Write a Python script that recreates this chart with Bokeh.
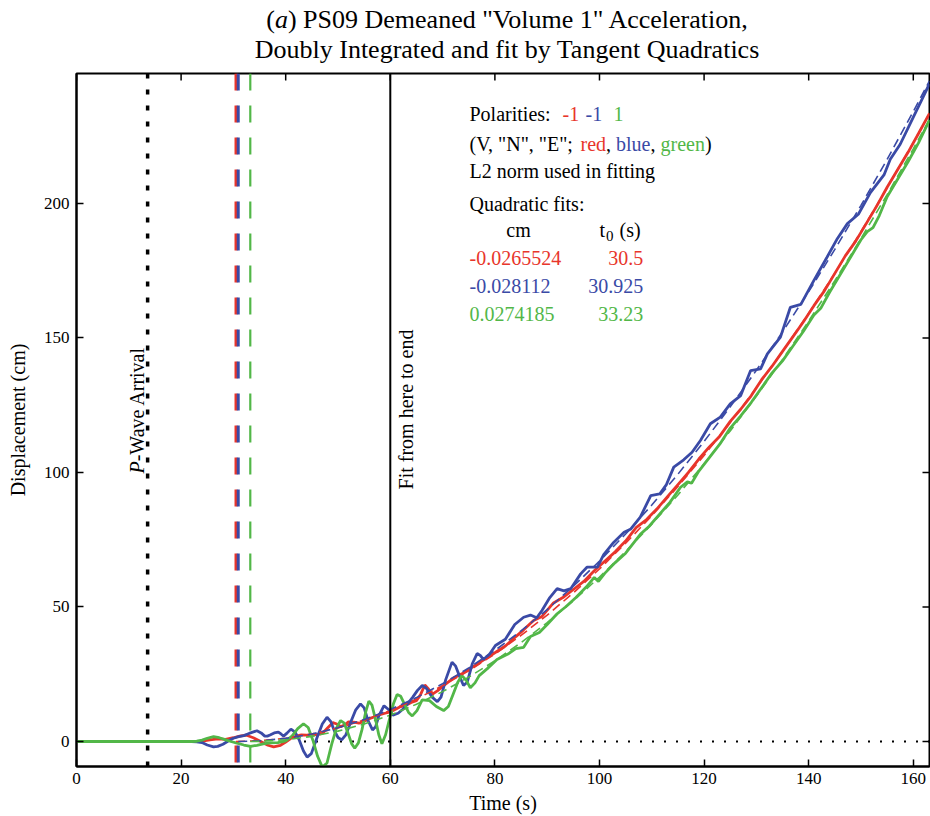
from math import pi
from bokeh.plotting import figure
from bokeh.models import Span, Label, Range1d, FixedTicker, Div
from bokeh.layouts import column
from bokeh.embed import file_html
from bokeh.resources import INLINE

FONT = "Liberation Serif"
RED = "#e8352b"
BLUE = "#3a4aa6"
GREEN = "#52b748"

# ---------------- data ----------------
title_line1 = '(<i>a</i>) PS09 Demeaned "Volume 1" Acceleration,'
title_line2 = "Doubly Integrated and fit by Tangent Quadratics"

x_ticks = [0, 20, 40, 60, 80, 100, 120, 140, 160]
y_ticks = [0, 50, 100, 150, 200]

p_wave_time = 13.6
fit_start_time = 60
zero_line_t = [43.5, 163.1]
zero_line_d = [0, 0]

t0_red, t0_blue, t0_green = 30.5, 30.925, 33.23
cm_red, cm_blue, cm_green = "-0.0265524", "-0.028112", "0.0274185"
t0_red_txt, t0_blue_txt, t0_green_txt = "30.5", "30.925", "33.23"

red_t = [0, 22, 24, 25.5, 27, 28.5, 30, 31.2, 32.4, 33.8, 35.5,
         36.6, 37.7, 39, 40, 41, 42, 43, 44, 45, 46,
         47, 48, 49, 49.8, 50.5, 51.3, 52, 53, 54, 55,
         56, 57, 58, 59, 60, 61, 62, 63, 64, 65,
         65.8, 66.6, 67.3, 68, 69, 70, 71, 72, 73, 74,
         75, 76, 77, 78, 79, 80,
         82, 84, 85.5, 87.4, 89, 91.2, 93, 95, 97, 99, 101, 103, 105, 107, 109, 111, 113, 115,
         117, 119, 121, 123, 125, 127, 129, 131, 133, 135, 137, 139, 141, 143, 145, 147, 149,
         151, 153, 155, 157, 159, 161, 163.1]
red_d = [0, 0, 0.1, 0.6, 1.0, 0.8, 1.4, 2.0, 2.4, 1.4, -0.3,
         -1.4, -2.0, -1.4, -0.2, 1.2, 2.0, 2.5, 2.4, 2.5, 2.6,
         3.0, 5.0, 7.0, 6.5, 5.5, 6.2, 7.3, 7.2, 6.8, 7.5,
         8.5, 9.2, 10.0, 10.5, 11.0, 12.0, 13.0, 13.5, 14.5, 15.2,
         17.5, 21.0, 19.5, 17.5, 18.8, 20.5, 22.0, 23.5, 24.5, 25.5,
         26.8, 28.0, 29.2, 30.5, 31.8, 33.0,
         35.5, 39.0, 41.5, 45.0, 46.5, 51.5, 53.5, 56.5, 59.5, 63.5, 67.0, 70.5, 74.5, 79.5,
         82.5, 86.5, 91.0, 95.5, 100.0, 105.0, 109.5, 113.5, 119.0, 123.5, 128.5, 134.5, 139.5,
         145.0, 150.5, 156.0, 162.0, 167.5, 174.0, 180.5, 186.0, 192.5, 199.0, 206.0, 212.5,
         219.0, 226.0, 233.5]

blue_t = [0, 22, 23, 24, 25, 26.2, 27, 28, 29, 30, 31,
          32, 33, 34.5, 35.3, 36, 36.5, 37, 37.8, 38.6, 39.1,
          39.6, 40.3, 41, 41.8, 42.6, 43.4, 44.1, 44.9, 46, 47,
          47.9, 48.6, 49.3, 50, 50.7, 51.5, 52.5, 53.4, 54.3, 55,
          55.7, 56.6, 57.2, 57.8, 58.8, 59.6, 60.5, 61.5, 62.4, 63.3,
          64.3, 65.2, 66.1, 66.9, 68, 69, 69.7, 70.6, 71.8, 72.5,
          73.3, 74, 74.7, 75.7, 76.6, 77.2, 77.8, 79, 80.1,
          82, 83.8, 85.5, 86.8, 88, 89, 90.5, 91.9, 93.2, 94.5, 96.4, 97.6, 99.6, 100.8, 102.7,
          104.7, 106, 107.8, 109.8, 111.5, 112.8, 114.2, 116.1, 117.7, 119.3, 121.2, 123.1, 125,
          127, 128.9, 130.8, 132.1, 134.6, 136.5, 138.5, 141, 143.5, 145.5, 147.4, 149.5, 151.8,
          154.4, 155.6, 157.5, 159.5, 161.5, 163.1]
blue_d = [0, 0, -0.1, -0.4, -1.3, -2.0, -1.8, -1.0, 0.2, 1.2, 1.8,
          2.2, 3.0, 4.0, 3.2, 2.0, 2.0, 2.4, 3.2, 3.5, 2.8,
          2.0, 3.2, 4.6, 3.5, 0.5, -3.5, -5.8, -4.5, 1.5, 6.5,
          9.0, 7.5, 4.0, 1.5, 0.6, 2.5, 7.5, 11.8, 14.0, 12.5,
          8.0, 4.3, 5.5, 9.5, 13.3, 12.0, 9.8, 10.5, 12.0, 14.0,
          16.5, 19.0, 20.8, 19.8, 16.5, 14.8, 16.5, 23.0, 29.5, 28.0,
          24.0, 20.8, 22.0, 29.0, 32.7, 32.0, 30.5, 32.5, 35.7,
          38.0, 43.5, 46.2, 47.0, 46.0, 48.7, 53.5, 56.8, 56.0, 56.8, 62.3, 64.8, 64.8, 69.5,
          74.0, 77.8, 79.0, 83.4, 91.4, 92.0, 95.5, 102.0, 104.7, 107.5, 111.9, 118.1, 120.6,
          125.5, 128.6, 137.9, 138.5, 144.1, 150.3, 161.4, 162.5, 171.4, 180.0, 187.0, 192.5,
          196.0, 204.0, 210.6, 216.4, 222.0, 230.0, 238.0, 244.5]

green_t = [0, 22, 23, 24, 25, 26.2, 27.3, 28.4, 29.5, 30.7, 32,
           33.3, 34.5, 35.7, 37, 38.5, 40, 41.2, 42.3, 43.4, 44.3,
           45.2, 46.1, 47, 47.9, 48.8, 49.7, 50.5, 51.2, 51.9, 52.6,
           53.2, 53.9, 54.6, 55.3, 55.9, 56.5, 57.2, 57.8, 58.4, 59.1,
           59.8, 60.6, 61.3, 62, 62.8, 63.5, 64.2, 65.1, 66.1, 67.5,
           68.8, 70.2, 71.1, 72, 72.9, 73.7, 74.5, 75.3, 76.2, 77,
           78.5, 80.4,
           82.5, 84, 85.5, 86.8, 88.5, 90, 91.9, 93.5, 95.5, 97.5, 99, 99.8, 101, 103, 105, 107.8,
           109.5, 111.5, 113.5, 115.5, 116.8, 117.6, 119, 121, 123, 125, 127, 129, 131, 133, 135,
           137, 139, 141, 142.3, 144, 146, 148, 150, 151.2, 152.3, 153.5, 155, 157, 159, 161, 163.1]
green_d = [0, 0, 0.1, 0.5, 1.2, 1.8, 1.4, 0.7, 0, -0.6, -1.3,
           -1.8, -1.4, -0.9, -0.5, -0.4, 0.2, 2.0, 4.8, 6.6, 5.2,
           0.5, -5.5, -9.5, -8.0, -1.0, 5.0, 7.8, 6.8, 3.2, -0.8,
           -2.5, -0.5, 4.5, 11.0, 15.0, 13.5, 8.0, 2.5, -0.8, 2.5,
           8.0, 14.0, 17.5, 16.8, 13.5, 10.8, 9.5, 11.5, 15.5, 15.2,
           13.0, 11.5, 13.0, 17.5, 22.0, 24.5, 22.8, 20.0, 21.8, 24.5,
           27.0, 30.5,
           32.5, 34.5, 35.0, 39.0, 40.5, 43.5, 47.5, 50.0, 53.5, 57.5, 61.0, 59.5, 62.5, 66.5,
           70.0, 77.0, 80.0, 84.5, 89.0, 94.5, 96.5, 96.0, 100.5, 105.5, 110.5, 116.5, 121.0,
           126.0, 131.5, 137.0, 141.5, 147.0, 152.5, 158.5, 161.0, 167.0, 173.5, 180.0, 186.5,
           189.5, 191.0, 195.5, 202.5, 209.0, 215.5, 222.5, 231.0]

red_fit_t = [30.5, 35, 40, 45, 50, 55, 60, 65, 70, 75, 80, 85, 90, 95, 100, 105, 110, 115, 120,
             125, 130, 135, 140, 145, 150, 155, 160, 163.1]
red_fit_d = [0, 0.27, 1.20, 2.79, 5.05, 7.97, 11.55, 15.80, 20.71, 26.29, 32.53, 39.43, 47.00,
             55.23, 64.13, 73.69, 83.91, 94.79, 106.35, 118.56, 131.44, 144.98, 159.18, 174.05,
             189.59, 205.78, 222.64, 233.4]
blue_fit_t = [30.925, 35, 40, 45, 50, 55, 60, 65, 70, 75, 80, 85, 90, 95, 100, 105, 110, 115, 120,
              125, 130, 135, 140, 145, 150, 155, 160, 163.1]
blue_fit_d = [0, 0.23, 1.16, 2.78, 5.11, 8.15, 11.88, 16.32, 21.46, 27.31, 33.85, 41.10, 49.05,
              57.71, 67.07, 77.13, 87.89, 99.36, 111.53, 124.40, 137.97, 152.25, 167.23, 182.91,
              199.30, 216.39, 234.18, 245.6]
green_fit_t = [33.23, 35, 40, 45, 50, 55, 60, 65, 70, 75, 80, 85, 90, 95, 100, 105, 110, 115, 120,
               125, 130, 135, 140, 145, 150, 155, 160, 163.1]
green_fit_d = [0, 0.04, 0.63, 1.90, 3.86, 6.50, 9.82, 13.84, 18.54, 23.92, 29.99, 36.74, 44.18,
               52.31, 61.12, 70.61, 80.80, 91.66, 103.22, 115.45, 128.38, 141.99, 156.28, 171.26,
               186.93, 203.28, 220.31, 231.2]

# ---------------- layout ----------------
W, H = 930, 816
TITLE_H = 68
FL, FT, FR, FB = 76, 73, 929, 766
X_LO, X_HI = 0, 163.1
Y_LO, Y_HI = -9.29, 248.3

title = Div(
    text=f'<div style="box-sizing:border-box; width:{W}px; padding:5px 0 0 84px; '
         f'text-align:center; font-family:\'{FONT}\'; font-size:26px; line-height:30px; '
         f'color:black;">{title_line1}<br>{title_line2}</div>',
    width=W, height=TITLE_H, margin=(0, 0, 0, 0))

p = figure(width=W, height=H - TITLE_H, output_backend="svg", toolbar_location=None,
           x_range=Range1d(X_LO, X_HI), y_range=Range1d(Y_LO, Y_HI),
           min_border_left=FL, min_border_right=W - FR, min_border_top=FT - TITLE_H,
           min_border_bottom=H - FB, background_fill_color="white",
           border_fill_color="white", margin=(0, 0, 0, 0))
p.grid.visible = False
p.outline_line_color = "black"
p.outline_line_width = 2

xa = p.xaxis[0]
xa.ticker = FixedTicker(ticks=x_ticks)
ya = p.yaxis[0]
ya.ticker = FixedTicker(ticks=y_ticks)
for ax in (xa, ya):
    ax.axis_line_width = 2
    ax.major_tick_in = 7
    ax.major_tick_out = 0
    ax.major_tick_line_width = 1.5
    ax.minor_tick_in = 0
    ax.minor_tick_out = 0
    ax.major_label_text_font = FONT
    ax.major_label_text_font_size = "17px"
    ax.major_label_text_color = "black"
    ax.axis_label_text_font = FONT
    ax.axis_label_text_font_size = "20px"
    ax.axis_label_text_font_style = "normal"
    ax.axis_label_text_color = "black"
xa.axis_label = "Time (s)"
xa.major_label_standoff = 6
xa.axis_label_standoff = 5
ya.axis_label = "Displacement (cm)"
ya.major_label_standoff = 7
ya.axis_label_standoff = 12

# mirrored inward ticks on top and right edges (7 px long)
px_per_x = (FR - FL) / (X_HI - X_LO)
px_per_y = (FB - FT) / (Y_HI - Y_LO)
tick_dy = 7 / px_per_y
tick_dx = 7 / px_per_x
p.segment(x0=x_ticks, x1=x_ticks, y0=[Y_HI] * len(x_ticks), y1=[Y_HI - tick_dy] * len(x_ticks),
          line_color="black", line_width=1.5)
p.segment(x0=[X_HI] * len(y_ticks), x1=[X_HI - tick_dx] * len(y_ticks), y0=y_ticks, y1=y_ticks,
          line_color="black", line_width=1.5)

# vertical reference lines
p.add_layout(Span(location=p_wave_time, dimension="height", line_color="black",
                  line_width=3.5, line_dash="5 11"))
p.add_layout(Span(location=t0_red, dimension="height", line_color=RED,
                  line_width=3, line_dash="17 15"))
p.add_layout(Span(location=t0_blue, dimension="height", line_color=BLUE,
                  line_width=3, line_dash="17 15"))
p.add_layout(Span(location=t0_green, dimension="height", line_color=GREEN,
                  line_width=2.2, line_dash="17 15"))
p.add_layout(Span(location=fit_start_time, dimension="height", line_color="black",
                  line_width=2))
p.line(zero_line_t, zero_line_d, line_color="black", line_width=2, line_dash="2 10")

# traces
p.line(red_t, red_d, line_color=RED, line_width=2.8)
p.line(blue_t, blue_d, line_color=BLUE, line_width=2.8)
p.line(green_t, green_d, line_color=GREEN, line_width=2.8)
# tangent quadratic fits
p.line(red_fit_t, red_fit_d, line_color=RED, line_width=1.6, line_dash="9 5")
p.line(blue_fit_t, blue_fit_d, line_color=BLUE, line_width=1.6, line_dash="9 5")
p.line(green_fit_t, green_fit_d, line_color=GREEN, line_width=1.6, line_dash="9 5")

# ---------------- texts ----------------
def lab(cx, cy, text, color="black", size=20, align="left", style="normal", angle=0):
    p.add_layout(Label(x=cx - FL, y=FB - cy, x_units="screen", y_units="screen",
                       text=text, text_color=color, text_font=FONT,
                       text_font_size=f"{size}px", text_align=align,
                       text_baseline="middle", text_font_style=style, angle=angle))

lab(469, 113, "Polarities:")
lab(562, 113, "-1", RED)
lab(585, 113, "-1", BLUE)
lab(613, 113, "1", GREEN)
lab(469, 143, '(V, "N", "E"; ')
lab(580, 143, "red", RED)
lab(605.5, 143, ",")
lab(615.5, 143, "blue", BLUE)
lab(650, 143, ",")
lab(660, 143, "green", GREEN)
lab(704.4, 143, ")")
lab(469, 170, "L2 norm used in fitting")
lab(469, 203, "Quadratic fits:")
lab(518, 229, "cm", align="center")
lab(599, 229, "t")
lab(605.5, 235, "0", size=15)
lab(619, 229, "(s)")
lab(469, 257, cm_red, RED)
lab(642.7, 257, t0_red_txt, RED, align="right")
lab(469, 285, cm_blue, BLUE)
lab(642.7, 285, t0_blue_txt, BLUE, align="right")
lab(469, 313, cm_green, GREEN)
lab(642.7, 313, t0_green_txt, GREEN, align="right")

lab(136, 473, "P", style="italic", angle=pi / 2)
lab(136, 460.8, "-Wave Arrival", angle=pi / 2)
lab(405, 409, "Fit from here to end", align="center", angle=pi / 2)

layout = column(title, p, spacing=0, margin=(0, 0, 0, 0))
open("out.html", "w").write(file_html(layout, INLINE))
